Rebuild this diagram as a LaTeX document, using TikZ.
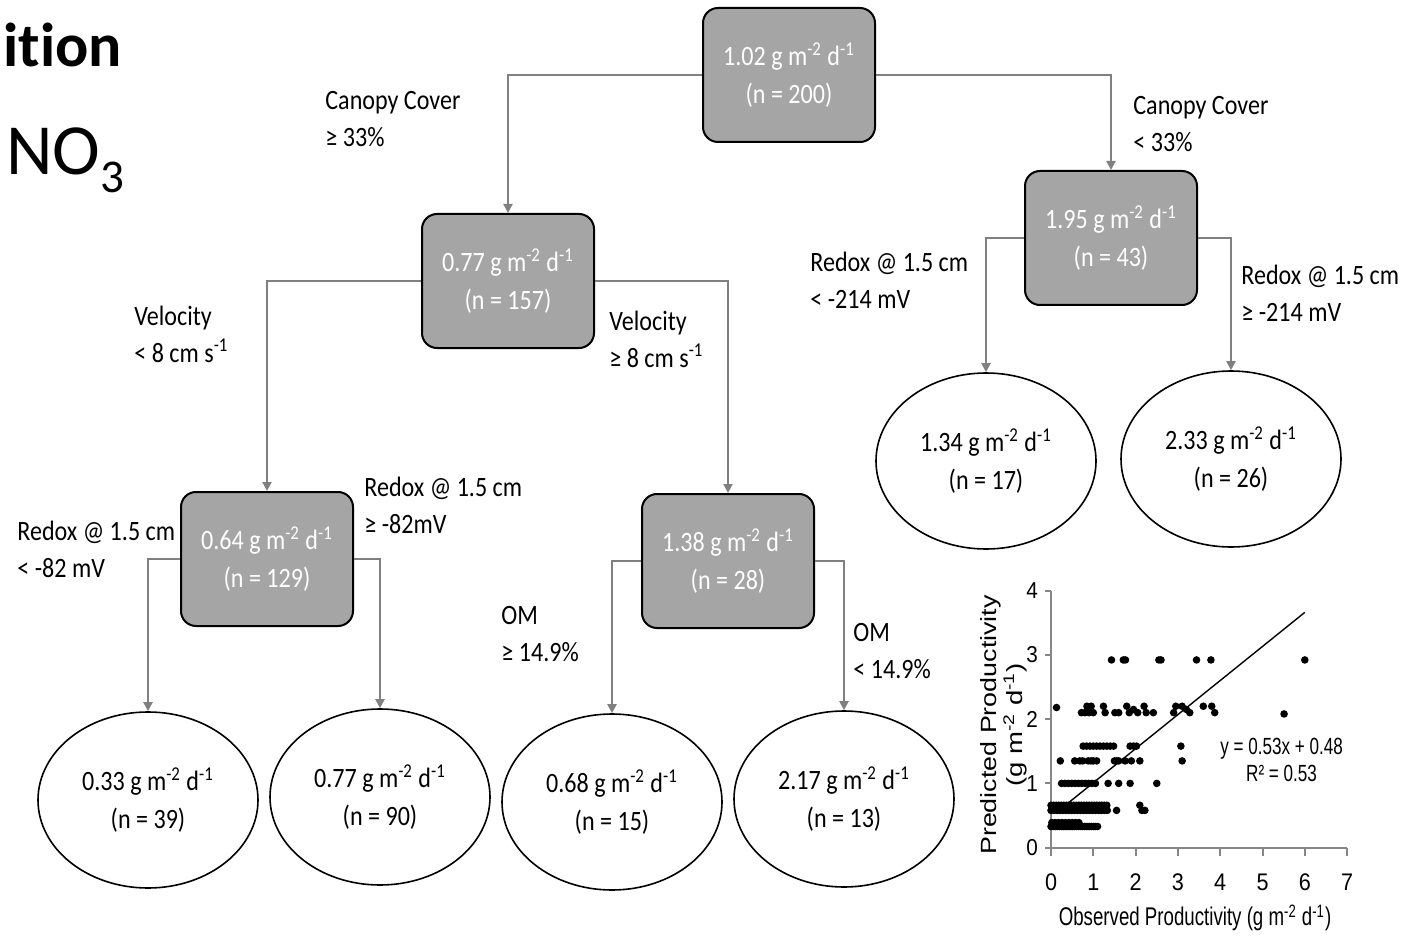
\documentclass[tikz,border=0pt]{standalone}
\usepackage{fontspec}
\setmainfont{Carlito}[FakeStretch=0.86]
\newfontfamily\titlefont{Carlito}[RawFeature={-liga;-calt}]
\newfontfamily\arialn[FakeStretch=0.73]{Liberation Sans}
\newfontfamily\arialt[FakeStretch=0.9]{Liberation Sans}
\newfontfamily\arialf{Liberation Sans}
\usetikzlibrary{shapes.geometric,arrows.meta}
\definecolor{boxgray}{HTML}{A5A5A5}
\definecolor{conngray}{HTML}{808080}
\definecolor{axisgray}{HTML}{868686}
\newcommand{\gmd}[1]{#1 g m\textsuperscript{-2} d\textsuperscript{-1}}
\begin{document}
\begin{tikzpicture}[x=0.5pt,y=-0.5pt,
  box/.style={draw=black, line width=1pt, fill=boxgray, rounded corners=7.5pt,
    minimum width=86pt, minimum height=67pt, text=white, align=center,
    font=\fontsize{14}{19}\selectfont, inner sep=0pt},
  leaf/.style={ellipse, draw=black, line width=0.8pt, fill=white, minimum width=110pt,
    minimum height=88pt, align=center, font=\fontsize{14}{19}\selectfont, inner sep=0pt},
  conn/.style={draw=conngray, line width=1pt, -{Triangle[length=4.5pt,width=4.5pt]}},
  lbl/.style={anchor=west, align=left, font=\fontsize{14}{18.5}\selectfont, inner sep=0pt}]
\useasboundingbox (0,0) rectangle (1419,936);

% titles
\node[anchor=base west, inner sep=0pt, font=\titlefont\fontsize{31}{31}\selectfont\bfseries] (ttl) at (3,67) {ition};
\node[anchor=base west, inner sep=0pt, font=\titlefont\fontsize{36}{36}\selectfont] (no3) at (6,175) {NO\raisebox{-9pt}{\fontsize{23.5}{23.5}\selectfont 3}};

% tree nodes
\node[box] (root) at (789,75) {\gmd{1.02}\\(n = 200)};
\node[box] (n1) at (508,281) {\gmd{0.77}\\(n = 157)};
\node[box] (n2) at (1111,238) {\gmd{1.95}\\(n = 43)};
\node[box] (n3) at (267,559) {\gmd{0.64}\\(n = 129)};
\node[box] (n4) at (728,561) {\gmd{1.38}\\(n = 28)};

\node[leaf] (e1) at (148,800) {\gmd{0.33}\\(n = 39)};
\node[leaf] (e2) at (380,797) {\gmd{0.77}\\(n = 90)};
\node[leaf] (e3) at (612,802) {\gmd{0.68}\\(n = 15)};
\node[leaf] (e4) at (844,799) {\gmd{2.17}\\(n = 13)};
\node[leaf] (e5) at (986,461) {\gmd{1.34}\\(n = 17)};
\node[leaf] (e6) at (1231,459) {\gmd{2.33}\\(n = 26)};

% connectors
\draw[conn] (root.west) -| (n1.north);
\draw[conn] (root.east) -| (n2.north);
\draw[conn] (n1.west) -| (n3.north);
\draw[conn] (n1.east) -| (n4.north);
\draw[conn] (n2.west) -| (e5.north);
\draw[conn] (n2.east) -| (e6.north);
\draw[conn] (n3.west) -| (e1.north);
\draw[conn] (n3.east) -| (e2.north);
\draw[conn] (n4.west) -| (e3.north);
\draw[conn] (n4.east) -| (e4.north);

% split labels
\node[lbl] (l1) at (325,119) {Canopy Cover\\≥ 33\%};
\node[lbl] (l2) at (1133,124) {Canopy Cover\\< 33\%};
\node[lbl] (l3) at (134,334) {Velocity\\< 8 cm s\textsuperscript{-1}};
\node[lbl] (l4) at (609,339) {Velocity\\≥ 8 cm s\textsuperscript{-1}};
\node[lbl] (l5) at (810,280) {Redox @ 1.5 cm\\< -214 mV};
\node[lbl] (l6) at (1241,293) {Redox @ 1.5 cm\\≥ -214 mV};
\node[lbl] (l7) at (17,549) {Redox @ 1.5 cm\\< -82 mV};
\node[lbl] (l8) at (364,505) {Redox @ 1.5 cm\\≥ -82mV};
\node[lbl] (l9) at (501,634) {OM\\≥ 14.9\%};
\node[lbl] (l10) at (853,651) {OM\\< 14.9\%};

% scatter plot
\begin{scope}[shift={(1051,847.7)}, x=21.15pt, y=32.15pt]
  \draw[axisgray, line width=1pt] (0,4) -- (0,0) -- (7,0);
  \foreach \k in {0,...,4} {
    \draw[axisgray, line width=1pt] (0,\k) -- (-0.15,\k);
    \node[anchor=east, inner sep=0pt, font=\arialt\fontsize{11.5}{11.5}\selectfont] at (-0.3,\k) {\k};
  }
  \foreach \k in {0,...,7} {
    \draw[axisgray, line width=1pt] (\k,0) -- (\k,-0.13);
    \node[anchor=center, inner sep=0pt, font=\arialt\fontsize{12}{12}\selectfont] at (\k,-0.54) {\k};
  }
  % points
  \foreach \x in {1.43,1.71,1.76,2.55,2.6,3.44,3.78,6.0} {\fill (\x,2.92) circle[radius=1.9pt];}
  \foreach \x/\y in {0.13/2.18,0.72/2.1,0.8/2.1,0.85/2.2,0.9/2.1,0.95/2.2,1.0/2.1,1.24/2.2,1.28/2.1,1.51/2.1,1.6/2.1,1.79/2.2,1.85/2.1,1.95/2.15,2.05/2.1,2.2/2.2,2.25/2.1,2.42/2.1,2.9/2.1,2.95/2.2,3.1/2.2,3.2/2.15,3.28/2.1,3.6/2.2,3.8/2.2,3.87/2.1,5.51/2.08} {\fill (\x,\y) circle[radius=1.9pt];}
  \foreach \x in {0.76,0.84,...,1.56,1.87,1.95,2.02,3.07} {\fill (\x,1.58) circle[radius=1.9pt];}
  \foreach \x in {0.22,0.56,0.68,0.75,0.88,0.95,1.0,1.08,1.5,1.55,1.6,1.75,1.9,2.1,3.1} {\fill (\x,1.35) circle[radius=1.9pt];}
  \foreach \x in {0.25,0.33,...,1.06,1.35,1.6,1.87,2.5} {\fill (\x,1.0) circle[radius=1.9pt];}
  \foreach \x in {0,0.06,...,1.36,2.1} {\fill (\x,0.66) circle[radius=1.9pt];}
  \foreach \x in {0,0.07,...,1.36,1.55,2.15,2.22} {\fill (\x,0.58) circle[radius=1.9pt];}
  \foreach \x in {0,0.05,...,1.11} {\fill (\x,0.33) circle[radius=1.9pt];}
  \foreach \x in {0.02,0.1,...,0.7} {\fill (\x,0.39) circle[radius=1.9pt];}
  % regression line
  \draw[black, line width=0.7pt] (0.3,0.639) -- (6.0,3.66);
  \node[inner sep=0pt, align=center, font=\arialn\fontsize{11.7}{13.5}\selectfont] (eq) at (5.45,1.37) {y = 0.53x + 0.48\\R² = 0.53};
\end{scope}
\node[inner sep=0pt, rotate=90, font=\arialf\fontsize{11}{11}\selectfont] (ylab1) at (991,725) {\scalebox{1.22}[1]{Predicted Productivity}};
\node[inner sep=0pt, rotate=90, font=\arialf\fontsize{11}{11}\selectfont] (ylab2) at (1015,725) {\scalebox{1.25}[1]{(g m\textsuperscript{-2} d\textsuperscript{-1})}};
\node[inner sep=0pt, font=\arialn\fontsize{12.8}{12.8}\selectfont] (xlab) at (1195,918) {Observed Productivity (g m\textsuperscript{-2} d\textsuperscript{-1})};
\end{tikzpicture}
\end{document}
